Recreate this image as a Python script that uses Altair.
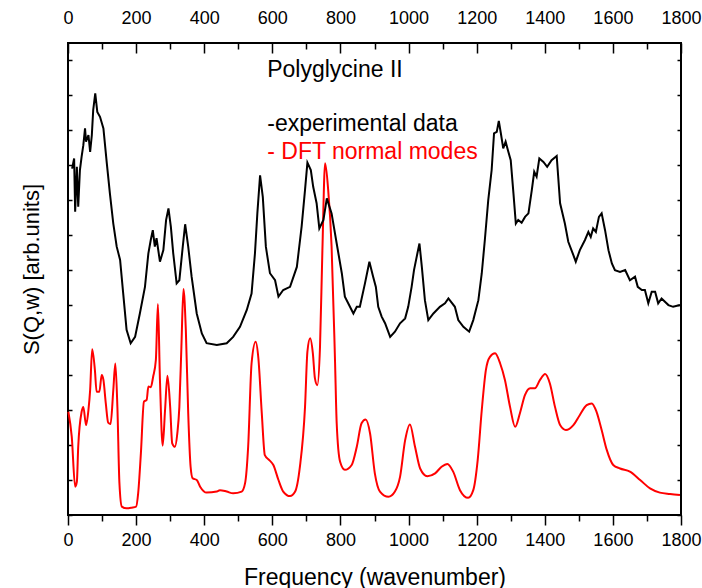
import altair as alt
import pandas as pd

# Measured inelastic neutron spectrum of polyglycine II (wavenumber, intensity)
exp_wavenumber = [12, 18, 21, 26, 30, 35, 40, 45, 50, 53, 60, 65, 70, 74, 80, 86, 94, 104, 114, 123,
                  133, 143, 153, 162, 172, 184, 197, 211, 226, 236, 243, 249, 255, 260, 270, 280, 288,
                  295, 302, 309, 319, 327, 337, 344, 353, 363, 378, 393, 407, 437, 466, 485, 505, 525,
                  539, 549, 556, 564, 572, 581, 593, 608, 618, 632, 652, 672, 686, 696, 703, 713, 720,
                  730, 738, 750, 760, 774, 789, 804, 813, 828, 838, 848, 857, 872, 885, 896, 904, 911,
                  921, 931, 946, 960, 975, 990, 999, 1009, 1016, 1026, 1032, 1039, 1048, 1058, 1073,
                  1092, 1107, 1117, 1136, 1146, 1161, 1178, 1190, 1205, 1215, 1224, 1234, 1244, 1251,
                  1259, 1265, 1271, 1278, 1285, 1293, 1300, 1308, 1315, 1322, 1332, 1342, 1352, 1362,
                  1369, 1376, 1384, 1396, 1407, 1420, 1435, 1445, 1459, 1469, 1482, 1491, 1503, 1518,
                  1528, 1535, 1542, 1550, 1559, 1567, 1577, 1587, 1597, 1606, 1621, 1636, 1650, 1665,
                  1673, 1685, 1694, 1704, 1714, 1724, 1733, 1743, 1763, 1777, 1797]
exp_intensity = [9.90, 10.19, 8.67, 9.95, 8.81, 9.86, 10.24, 10.57, 11.05, 10.67, 10.86, 10.38, 10.86,
                 11.57, 12.05, 11.52, 11.38, 11.05, 10.05, 9.19, 8.33, 7.67, 7.29, 6.34, 5.29, 4.91,
                 5.09, 5.76, 6.52, 7.48, 7.86, 8.14, 7.67, 7.91, 7.24, 7.57, 8.43, 8.76, 8.24, 7.48,
                 6.62, 6.71, 7.67, 8.31, 7.67, 6.81, 5.76, 5.19, 4.91, 4.86, 4.91, 5.09, 5.38, 5.86,
                 6.33, 7.48, 8.62, 9.71, 9.09, 7.67, 6.91, 6.71, 6.24, 6.43, 6.52, 7.09, 8.24, 9.29,
                 10.07, 9.86, 9.38, 8.91, 8.19, 8.43, 9.05, 8.62, 7.76, 6.91, 6.24, 5.95, 5.76, 5.95,
                 5.95, 6.62, 7.24, 6.81, 6.52, 5.95, 5.67, 5.48, 5.09, 5.24, 5.48, 5.62, 5.95, 6.52,
                 7.00, 7.48, 7.76, 7.09, 6.14, 5.57, 5.76, 5.95, 6.05, 6.19, 5.95, 5.57, 5.38, 5.24,
                 5.57, 6.14, 6.91, 7.86, 9.00, 9.86, 10.91, 10.95, 11.26, 10.91, 10.48, 10.67, 10.38,
                 10.14, 9.19, 8.33, 8.43, 8.35, 8.52, 8.62, 9.29, 9.81, 9.67, 10.19, 10.09, 9.95,
                 10.14, 10.26, 8.91, 8.33, 7.81, 7.48, 7.24, 7.57, 7.86, 8.09, 7.95, 8.19, 8.09, 8.52,
                 8.62, 8.14, 7.57, 7.19, 7.00, 6.95, 7.00, 6.71, 6.81, 6.52, 6.43, 6.43, 6.05, 6.38,
                 6.38, 6.05, 6.19, 6.00, 5.95, 6.00]

# DFT normal-mode spectrum (wavenumber, intensity)
dft_wavenumber = [1, 11, 21, 26, 30, 40, 45, 53, 60, 65, 71, 79, 84, 92, 99, 104, 111, 118, 125, 133,
                  139, 145, 151, 158, 172, 187, 200, 206, 214, 223, 231, 236, 243, 250, 258, 264, 270,
                  278, 285, 292, 300, 306, 314, 321, 327, 333, 339, 346, 353, 360, 366, 378, 388, 407,
                  437, 446, 466, 485, 510, 520, 529, 539, 551, 559, 569, 578, 591, 603, 618, 632, 652,
                  667, 681, 696, 703, 711, 719, 725, 732, 740, 747, 755, 764, 774, 784, 789, 799, 813,
                  833, 848, 862, 874, 887, 901, 916, 941, 960, 975, 990, 1004, 1019, 1034, 1055, 1078,
                  1097, 1114, 1131, 1151, 1175, 1190, 1203, 1215, 1227, 1239, 1254, 1269, 1283, 1298,
                  1313, 1327, 1342, 1357, 1371, 1386, 1401, 1415, 1430, 1445, 1462, 1484, 1503, 1523,
                  1538, 1552, 1567, 1582, 1601, 1621, 1650, 1680, 1709, 1738, 1768, 1797]
dft_intensity = [2.95, 2.24, 0.81, 0.95, 1.95, 2.95, 3.09, 2.57, 3.00, 3.57, 4.74, 4.14, 3.52, 3.52,
                 4.00, 3.86, 3.19, 2.64, 2.60, 3.57, 4.33, 3.09, 0.91, 0.24, 0.19, 0.21, 0.24, 0.62,
                 1.76, 3.24, 3.29, 3.67, 3.65, 3.95, 4.43, 6.03, 3.86, 1.98, 3.00, 3.98, 3.09, 2.05,
                 1.95, 2.33, 3.09, 4.81, 6.46, 5.29, 2.91, 1.38, 1.05, 1.00, 0.81, 0.64, 0.67, 0.71,
                 0.67, 0.62, 0.67, 0.91, 1.95, 4.33, 4.95, 4.48, 2.91, 1.71, 1.57, 1.43, 1.00, 0.67,
                 0.54, 0.67, 1.38, 3.09, 4.67, 5.05, 4.62, 3.91, 3.71, 4.81, 7.57, 10.05, 9.29, 7.67,
                 4.43, 2.62, 1.52, 1.29, 1.43, 1.95, 2.62, 2.73, 2.33, 1.19, 0.67, 0.52, 0.67, 1.09,
                 2.14, 2.59, 1.95, 1.33, 1.11, 1.19, 1.38, 1.46, 1.24, 0.71, 0.49, 0.71, 1.57, 3.00,
                 4.14, 4.52, 4.62, 4.33, 3.86, 3.09, 2.52, 2.91, 3.43, 3.62, 3.62, 3.86, 4.03, 3.76,
                 3.09, 2.57, 2.43, 2.57, 2.86, 3.14, 3.19, 2.95, 2.43, 1.86, 1.43, 1.33, 1.24, 1.00,
                 0.76, 0.64, 0.60, 0.57]

x_major = [0, 200, 400, 600, 800, 1000, 1200, 1400, 1600, 1800]
x_minor = [100, 300, 500, 700, 900, 1100, 1300, 1500, 1700]
y_ticks = list(range(0, 14))

exp_df = pd.DataFrame({"freq": exp_wavenumber, "s": exp_intensity})
dft_df = pd.DataFrame({"freq": dft_wavenumber, "s": dft_intensity})

FONT = "Liberation Sans, Arial, Helvetica, sans-serif"
xs = alt.Scale(domain=[0, 1800], nice=False, zero=False)
ys = alt.Scale(domain=[0, 13.49], nice=False, zero=False)


def x_enc(axis):
    return alt.X("freq:Q", scale=xs, axis=axis)


def y_enc(axis):
    return alt.Y("s:Q", scale=ys, axis=axis)


common = dict(domain=False, grid=False, tickColor="black", tickWidth=1.5,
              labelColor="black", titleColor="black", labelFont=FONT, titleFont=FONT,
              labelFlush=False, labelOverlap=False, labelBound=False)

bottom_major = alt.Axis(orient="bottom", values=x_major, tickSize=10, labelFontSize=18,
                        labelPadding=6, format="d", title="Frequency (wavenumber)",
                        titleFontSize=23, titleFontWeight="normal", titleY=69,
                        titleBaseline="alphabetic", **common)
bottom_minor = alt.Axis(orient="bottom", values=x_minor, tickSize=6, labels=False,
                        title=None, **common)
top_labels = alt.Axis(orient="top", values=x_major, ticks=False, tickSize=0, labelFontSize=18,
                      labelPadding=20, labelBaseline="alphabetic", format="d", title=None, **common)
top_major = alt.Axis(orient="top", values=x_major, offset=-10, tickSize=10, labels=False,
                     title=None, **common)
top_minor = alt.Axis(orient="top", values=x_minor, offset=-6, tickSize=6, labels=False,
                     title=None, **common)
left_title = alt.Axis(orient="left", ticks=False, labels=False, title="S(Q,w) [arb.units]",
                      titleFontSize=22, titleFontWeight="normal", titleX=-30, titleY=226,
                      titleAngle=270, titleAlign="center", titleBaseline="alphabetic", **common)
left_ticks = alt.Axis(orient="left", values=y_ticks, offset=-4, tickSize=4, labels=False,
                      title=None, **common)
right_ticks = alt.Axis(orient="right", values=y_ticks, offset=-4, tickSize=4, labels=False,
                       title=None, **common)

experimental = alt.Chart(exp_df).mark_line(color="black", strokeWidth=2).encode(
    x=x_enc(bottom_major), y=y_enc(left_title))
dft = alt.Chart(dft_df).mark_line(color="#ff0000", strokeWidth=2, interpolate="monotone").encode(
    x=x_enc(top_labels), y=y_enc(right_ticks))
guide_a = alt.Chart(exp_df).mark_line(strokeOpacity=0).encode(
    x=x_enc(bottom_minor), y=y_enc(left_ticks))
guide_b = alt.Chart(exp_df).mark_line(strokeOpacity=0).encode(
    x=x_enc(top_major), y=y_enc(None))
guide_c = alt.Chart(exp_df).mark_line(strokeOpacity=0).encode(
    x=x_enc(top_minor), y=y_enc(None))


def label(text, freq, level, color):
    return alt.Chart(pd.DataFrame({"label": [text]})).mark_text(
        align="left", baseline="alphabetic", font=FONT, fontSize=23, color=color
    ).encode(
        x=alt.XDatum(freq, scale=xs, axis=None),
        y=alt.YDatum(level, scale=ys, axis=None),
        text="label:N",
    )


title_txt = label("Polyglycine II", 585, 12.51, "black")
exp_txt = label("-experimental data", 585, 10.97, "black")
dft_txt = label("- DFT normal modes", 585, 10.17, "#ff0000")

chart = alt.layer(
    guide_a, guide_b, guide_c, dft, experimental, title_txt, exp_txt, dft_txt
).resolve_axis(
    x="independent", y="independent"
).properties(
    width=613, height=472,
    padding={"left": 68, "top": 43, "right": 21, "bottom": 73},
    autosize=alt.AutoSizeParams(type="none"),
    background="white",
).configure_view(stroke="black", strokeWidth=2)

chart.save("out.html", embed_options={"renderer": "svg", "actions": False})
